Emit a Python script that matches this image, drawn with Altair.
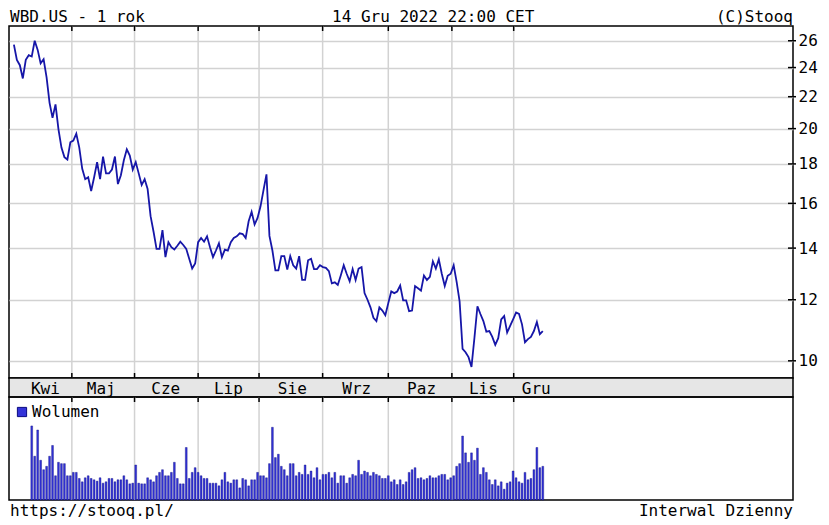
import altair as alt
import pandas as pd

# ---------------- data ----------------
price = [25.7, 24.56, 24.17, 23.23, 24.56, 24.9, 24.8, 26.0, 25.3, 24.3,
         24.6, 23.3, 21.6, 20.65, 21.5, 19.96, 18.9, 18.37, 18.24, 19.2,
         19.3, 19.7, 18.9, 17.74, 17.2, 17.3, 16.6, 17.3, 18.1, 17.2,
         18.4, 17.5, 17.5, 17.7, 18.4, 16.95, 17.4, 18.2, 18.8, 18.45,
         17.7, 18.1, 17.5, 16.9, 17.2, 16.7, 15.4, 14.7, 13.97, 13.97,
         14.77, 13.63, 14.25, 14.04, 13.94, 14.1, 14.27, 14.13, 13.97, 13.56,
         13.17, 13.37, 14.25, 14.43, 14.27, 14.5, 14.04, 13.63, 13.9, 14.2,
         13.63, 13.94, 13.9, 14.25, 14.43, 14.5, 14.63, 14.6, 14.43, 15.17,
         15.6, 15.02, 15.32, 15.86, 16.65, 17.45, 14.52, 13.9, 13.1, 13.1,
         13.67, 13.67, 13.13, 13.67, 13.3, 13.17, 13.67, 12.73, 12.73, 13.5,
         13.56, 13.15, 13.15, 13.3, 13.23, 13.2, 13.07, 12.6, 12.64, 12.54,
         12.9, 13.3, 12.97, 12.68, 13.15, 12.73, 13.17, 13.23, 12.24, 12.0,
         11.73, 11.37, 11.26, 11.73, 11.62, 11.46, 11.88, 12.3, 12.24, 12.3,
         12.52, 11.98, 11.98, 11.6, 11.62, 12.5, 12.42, 12.33, 12.9, 12.73,
         12.85, 13.46, 13.17, 13.54, 12.97, 12.5, 12.89, 12.97, 13.3, 12.66,
         11.94, 10.36, 10.26, 10.11, 9.82, 10.72, 11.77, 11.5, 11.26, 10.91,
         10.93, 10.74, 10.49, 10.7, 11.32, 11.43, 10.88, 11.1, 11.32, 11.55,
         11.5, 11.15, 10.57, 10.67, 10.74, 10.93, 11.23, 10.83, 10.93]

volume = [110, 65, 104, 59, 45, 50, 65, 81, 36, 56,
          54, 54, 36, 36, 41, 41, 32, 27, 33, 36,
          32, 30, 28, 33, 25, 27, 32, 32, 27, 30,
          30, 36, 30, 24, 25, 52, 25, 24, 24, 33,
          30, 27, 36, 41, 45, 36, 36, 41, 56, 32,
          24, 24, 78, 32, 41, 48, 41, 36, 32, 32,
          25, 25, 25, 21, 30, 41, 27, 25, 30, 30,
          18, 32, 30, 21, 30, 30, 41, 36, 36, 33,
          54, 108, 63, 68, 50, 45, 36, 54, 54, 36,
          41, 38,
          52, 38, 43, 33, 48, 30, 38, 38, 41, 33,
          41, 25, 36, 36, 25, 33, 38, 36, 59, 38,
          43, 41, 36, 41, 38, 36, 32, 32, 36, 27,
          30, 23, 30, 23, 27, 41, 45, 48, 32, 33,
          30, 32, 36, 33, 33, 36, 38, 38, 30, 33,
          36, 50, 54, 95, 70, 56, 70, 59, 77, 38,
          48, 41, 30, 23, 30, 21, 27, 16, 25, 27,
          43, 33, 27, 25, 41, 30, 32, 45, 78, 48,
          50]
vol_first_session = 6

month_bounds = [19.5, 40.6, 62.0, 82.5, 103.9, 126.0, 147.4, 168.2]
month_names = ["Kwi", "Maj", "Cze", "Lip", "Sie", "Wrz", "Paz", "Lis", "Gru"]
month_label_pos = [10.6, 29.4, 51.1, 72.2, 93.7, 115.4, 137.2, 158.0, 175.8]
price_ticks = [10, 12, 14, 16, 18, 20, 22, 24, 26]

title_left = "WBD.US - 1 rok"
title_mid = "14 Gru 2022 22:00 CET"
title_right = "(C)Stooq"
footer_left = "https://stooq.pl/"
footer_right = "Interwal Dzienny"
legend_label = "Wolumen"

# ---------------- layout / style ----------------
W = 784
H_MAIN = 352
H_BAND = 19
H_VOL = 103
X_DOMAIN = [-1.65, 262.2]
Y_DOMAIN = [9.5, 27.17]
V_DOMAIN = [0, 153]
FONT = "DejaVu Sans Mono"
FS = 16
GRID = "#d2d2d2"
LINE_COLOR = "#1616a8"
BAR_FILL = "#3333d8"
BAR_EDGE = "#0a0a80"

df_price = pd.DataFrame({"i": list(range(len(price))), "p": price})
df_vol = pd.DataFrame({"i": [vol_first_session + k for k in range(len(volume))], "v": volume})
df_bounds = pd.DataFrame({"b": month_bounds})
df_months = pd.DataFrame({"pos": month_label_pos, "name": month_names})
df_pticks = pd.DataFrame({"t": price_ticks})

xs = alt.Scale(domain=X_DOMAIN, nice=False, zero=False, padding=0)
ys = alt.Scale(type="log", domain=Y_DOMAIN, nice=False)


def vgrid():
    return alt.Chart(df_bounds).mark_rule(color=GRID, strokeWidth=1.5).encode(
        x=alt.X("b:Q", scale=xs, axis=None))


def ticks_at(y0, y1):
    return alt.Chart(df_bounds).mark_rule(color="black", strokeWidth=1.5).encode(
        x=alt.X("b:Q", scale=xs, axis=None), y=alt.value(y0), y2=alt.value(y1))


# ---------------- main price panel ----------------
line = alt.Chart(df_price).mark_line(color=LINE_COLOR, strokeWidth=1.8).encode(
    x=alt.X("i:Q", scale=xs, axis=None),
    y=alt.Y("p:Q", scale=ys,
            axis=alt.Axis(orient="right", values=price_ticks, grid=True, gridColor=GRID,
                          gridWidth=1.5, ticks=False, domain=False, title=None,
                          labelFont=FONT, labelFontSize=FS, labelColor="black",
                          labelPadding=5, labelOverlap=False, labelFlush=False)),
)

right_ticks = alt.Chart(df_pticks).mark_rule(color="black", strokeWidth=1.5).encode(
    y=alt.Y("t:Q", scale=ys), x=alt.value(W - 5), x2=alt.value(W + 3))


def header(txt, x, align):
    return alt.Chart(pd.DataFrame({"t": [txt]})).mark_text(
        align=align, baseline="alphabetic", font=FONT, fontSize=FS, color="black"
    ).encode(x=alt.value(x), y=alt.value(-4), text="t:N")


main = alt.layer(
    vgrid(), line, ticks_at(0, 5), ticks_at(H_MAIN - 5, H_MAIN), right_ticks,
    header(title_left, 1, "left"),
    header(title_mid, 323, "left"),
    header(title_right, W, "right"),
).properties(width=W, height=H_MAIN)

# ---------------- month band ----------------
band = alt.Chart(df_months).mark_text(font=FONT, fontSize=FS, color="black",
                                      baseline="middle").encode(
    x=alt.X("pos:Q", scale=xs, axis=None),
    y=alt.value(H_BAND / 2 + 1),
    text="name:N",
).properties(width=W, height=H_BAND,
             view=alt.ViewBackground(fill="#e6e6e6", stroke="black", strokeWidth=1.5))

# ---------------- volume panel ----------------
bars = alt.Chart(df_vol).mark_bar(size=1.8, color=BAR_FILL, stroke=BAR_EDGE,
                                  strokeWidth=0.4).encode(
    x=alt.X("i:Q", scale=xs, axis=None),
    y=alt.Y("v:Q", scale=alt.Scale(domain=V_DOMAIN, nice=False), axis=None),
)
legend_sq = alt.Chart(pd.DataFrame({"t": [legend_label]})).mark_square(
    size=85, color=BAR_FILL, stroke=BAR_EDGE, strokeWidth=1, opacity=1
).encode(x=alt.value(13), y=alt.value(15))
legend_txt = alt.Chart(pd.DataFrame({"t": [legend_label]})).mark_text(
    align="left", baseline="middle", font=FONT, fontSize=FS, color="black"
).encode(x=alt.value(23), y=alt.value(15), text="t:N")


def footer(txt, x, align):
    return alt.Chart(pd.DataFrame({"t": [txt]})).mark_text(
        align=align, baseline="alphabetic", font=FONT, fontSize=FS, color="black"
    ).encode(x=alt.value(x), y=alt.value(H_VOL + 16), text="t:N")


vol = alt.layer(
    vgrid(), bars, ticks_at(0, 5), legend_sq, legend_txt,
    footer(footer_left, 1, "left"),
    footer(footer_right, W, "right"),
).properties(width=W, height=H_VOL)

chart = alt.vconcat(main, band, vol, spacing=0, bounds="flush").properties(
    padding=0, background="white"
).configure_view(stroke="black", strokeWidth=1.5).resolve_scale(x="shared")

chart.save("out.html", embed_options={"renderer": "svg", "actions": False})
